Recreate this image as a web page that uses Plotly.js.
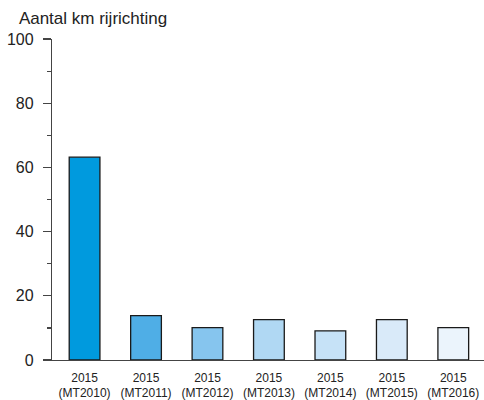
<!DOCTYPE html>
<html><head><meta charset="utf-8">
<script src="https://cdn.plot.ly/plotly-3.0.1.min.js"></script>
<style>html,body{margin:0;padding:0;background:#fff}#c{width:484px;height:400px}</style>
</head><body><div id="c"></div>
<script>
var categories = ["2015<br>(MT2010)","2015<br>(MT2011)","2015<br>(MT2012)","2015<br>(MT2013)","2015<br>(MT2014)","2015<br>(MT2015)","2015<br>(MT2016)"];
var values = [63.2, 13.8, 10.1, 12.6, 9.1, 12.6, 10.1];
var colors = ["#009ADE","#4FAEE6","#86C5EE","#B0D8F3","#C6E2F7","#D9EAF9","#EBF4FC"];
var yTickVals = [0,20,40,60,80,100];

Plotly.newPlot('c', [{
  type:'bar', x:categories, y:values,
  marker:{color:colors, line:{color:'#1a1a1a', width:1.3}},
  hoverinfo:'none'
}], {
  width:484, height:400,
  margin:{l:52, r:0, t:39, b:40},
  paper_bgcolor:'#fff', plot_bgcolor:'#fff',
  bargap:0.5,
  showlegend:false,
  font:{family:'Liberation Sans, Arial, sans-serif', color:'#222'},
  title:{text:'Aantal km rijrichting', font:{size:17, color:'#222'}, xref:'container', yref:'container', x:0.039, xanchor:'left', y:0.955, yanchor:'middle'},
  xaxis:{range:[-0.53,6.5], showgrid:false, zeroline:false, showline:true, linecolor:'#444', linewidth:1.2, ticks:'', ticklabelstandoff:6, tickfont:{size:12, color:'#222'}, fixedrange:true},
  yaxis:{range:[0,100], tickvals:yTickVals, showgrid:false, zeroline:false, showline:true, linecolor:'#444', linewidth:1.2, ticks:'outside', ticklen:8, tickcolor:'#444', tickwidth:1.2, ticklabelstandoff:6, tickfont:{size:16, color:'#222'},
    minor:{dtick:10, ticks:'outside', ticklen:4, tickcolor:'#444', tickwidth:1.2, showgrid:false}, fixedrange:true}
}, {displayModeBar:false, staticPlot:true});
</script></body></html>
